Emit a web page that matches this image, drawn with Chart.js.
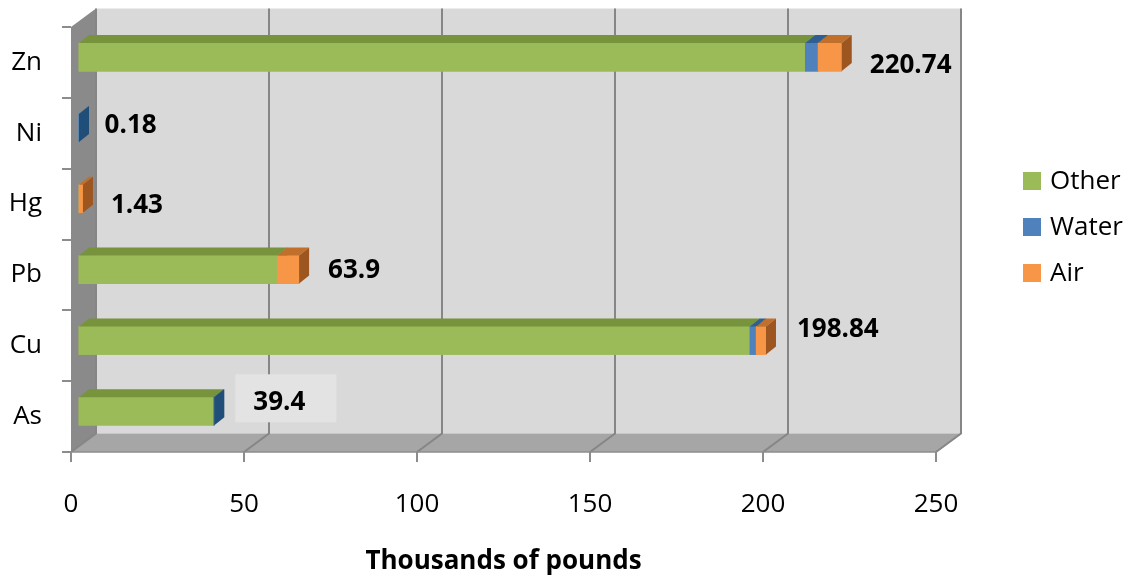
<!DOCTYPE html>
<html>
<head>
<meta charset="utf-8">
<script src="https://cdn.jsdelivr.net/npm/chart.js@4.4.1/dist/chart.umd.min.js"></script>
<style>
  html, body { margin: 0; padding: 0; background: #ffffff; }
  #wrap { width: 1133px; height: 578px; position: relative; }
</style>
</head>
<body>
<div id="wrap"><canvas id="chart" width="1133" height="578"></canvas></div>
<script>
// Releases by metal, thousands of pounds
const categories = ['Zn', 'Ni', 'Hg', 'Pb', 'Cu', 'As'];
const seriesNames = ['Other', 'Water', 'Air'];
const otherValues = [210.2, 0, 0, 57.6, 194.2, 39.2];
const waterValues = [3.7, 0.18, 0, 0, 1.8, 0.2];
const airValues = [6.84, 0, 1.43, 6.3, 2.84, 0];
const xTickValues = [0, 50, 100, 150, 200, 250];
const axisTitle = 'Thousands of pounds';

// Styling
const FONT = '"Open Sans", "Liberation Sans", sans-serif';
const frontColors = ['#9BBB59', '#4F81BD', '#F79646'];
const topColors = ['#77933C', '#2F5F90', '#C0702A'];
const sideColors = ['#62792F', '#1F4E79', '#9E5620'];
const GEO = {
  wallDx: 25, wallDy: -18.5,     // depth of the box (back wall offset)
  barShiftX: 7, barShiftY: -5.3, // bars sit a little into the box
  faceDx: 10, faceDy: -8         // bar thickness in depth
};
// label offsets from the end of each bar: [dx, dy]
const labelNudge = [[28, 8], [26, -2], [28, 7], [29, 1], [31, -11], [39, -9]];
const labelBox = [null, null, null, null, null, { color: '#E3E3E3', left: -18, right: 31, top: -28, bottom: 20 }];

const totals = categories.map((_, i) => otherValues[i] + waterValues[i] + airValues[i]);
const totalText = totals.map(t => String(Math.round(t * 100) / 100));

const depthBox = {
  id: 'depthBox',
  beforeDraw(chart) {
    const { ctx, chartArea: a, scales: { x } } = chart;
    const dx = GEO.wallDx, dy = GEO.wallDy;
    ctx.save();
    // back wall
    ctx.fillStyle = '#D9D9D9';
    ctx.fillRect(a.left + dx, a.top + dy, a.right - a.left, a.bottom - a.top);
    // left wall
    ctx.fillStyle = '#8A8A8A';
    ctx.beginPath();
    ctx.moveTo(a.left, a.top);
    ctx.lineTo(a.left + dx, a.top + dy);
    ctx.lineTo(a.left + dx, a.bottom + dy);
    ctx.lineTo(a.left, a.bottom);
    ctx.closePath();
    ctx.fill();
    // floor
    ctx.fillStyle = '#A6A6A6';
    ctx.beginPath();
    ctx.moveTo(a.left, a.bottom);
    ctx.lineTo(a.right, a.bottom);
    ctx.lineTo(a.right + dx, a.bottom + dy);
    ctx.lineTo(a.left + dx, a.bottom + dy);
    ctx.closePath();
    ctx.fill();
    // gridlines on back wall and floor
    ctx.strokeStyle = '#868686';
    ctx.lineWidth = 2;
    xTickValues.forEach(v => {
      const px = x.getPixelForValue(v);
      ctx.beginPath();
      ctx.moveTo(px + dx, a.top + dy);
      ctx.lineTo(px + dx, a.bottom + dy);
      ctx.lineTo(px, a.bottom);
      ctx.stroke();
    });
    // front edge of floor
    ctx.strokeStyle = '#8C8C8C';
    ctx.lineWidth = 1.5;
    ctx.beginPath();
    ctx.moveTo(a.left, a.bottom);
    ctx.lineTo(a.right, a.bottom);
    ctx.stroke();
    ctx.restore();
  },
  beforeDatasetsDraw(chart) {
    chart.ctx.save();
    chart.ctx.translate(GEO.barShiftX, GEO.barShiftY);
  },
  afterDatasetsDraw(chart) {
    const ctx = chart.ctx;
    const metas = chart.data.datasets.map((_, d) => chart.getDatasetMeta(d));
    categories.forEach((_, i) => {
      metas.forEach((meta, d) => {
        const val = chart.data.datasets[d].data[i];
        if (!val) return;
        const el = meta.data[i];
        const p = el.getProps(['x', 'y', 'base', 'height'], true);
        const l = Math.min(p.x, p.base), r = Math.max(p.x, p.base);
        const t = p.y - p.height / 2, b = p.y + p.height / 2;
        const fx = GEO.faceDx, fy = GEO.faceDy;
        el.draw(ctx);
        ctx.fillStyle = topColors[d];
        ctx.beginPath();
        ctx.moveTo(l, t); ctx.lineTo(r, t); ctx.lineTo(r + fx, t + fy); ctx.lineTo(l + fx, t + fy);
        ctx.closePath(); ctx.fill();
        ctx.fillStyle = sideColors[d];
        ctx.beginPath();
        ctx.moveTo(r, t); ctx.lineTo(r + fx, t + fy); ctx.lineTo(r + fx, b + fy); ctx.lineTo(r, b);
        ctx.closePath(); ctx.fill();
      });
    });
    ctx.restore();

    // totals at the end of each bar
    const { x, y } = chart.scales;
    ctx.save();
    ctx.font = 'bold 26px ' + FONT;
    ctx.textAlign = 'left';
    ctx.textBaseline = 'middle';
    totals.forEach((t, i) => {
      const tx = x.getPixelForValue(t) + GEO.barShiftX + labelNudge[i][0];
      const ty = y.getPixelForValue(i) + GEO.barShiftY + labelNudge[i][1];
      const box = labelBox[i];
      if (box) {
        const w = ctx.measureText(totalText[i]).width;
        ctx.fillStyle = box.color;
        ctx.fillRect(tx + box.left, ty + box.top, w - box.left + box.right, box.bottom - box.top);
      }
      ctx.fillStyle = '#000000';
      ctx.fillText(totalText[i], tx, ty);
    });
    ctx.restore();
  },
  afterDraw(chart) {
    // legend on the right
    const ctx = chart.ctx;
    ctx.save();
    ctx.font = '26px ' + FONT;
    ctx.textAlign = 'left';
    ctx.textBaseline = 'middle';
    chart.data.datasets.forEach((ds, d) => {
      const cy = 181 + d * 46;
      ctx.fillStyle = ds.backgroundColor;
      ctx.fillRect(1023, cy - 9, 18, 18);
      ctx.fillStyle = '#000000';
      ctx.fillText(ds.label, 1050, cy + 1);
    });
    ctx.restore();
  }
};

const seriesValues = [otherValues, waterValues, airValues];

new Chart(document.getElementById('chart'), {
  type: 'bar',
  data: {
    labels: categories,
    datasets: seriesNames.map((name, d) => ({
      label: name,
      data: seriesValues[d],
      backgroundColor: frontColors[d],
      borderWidth: 0,
      barThickness: 28
    }))
  },
  options: {
    indexAxis: 'y',
    responsive: false,
    animation: false,
    devicePixelRatio: 1,
    layout: { padding: { top: 27, right: 197, bottom: 0, left: 0 } },
    plugins: { legend: { display: false }, tooltip: { enabled: false } },
    scales: {
      x: {
        type: 'linear',
        stacked: true,
        min: 0,
        max: 250,
        afterBuildTicks(scale) { scale.ticks = xTickValues.map(v => ({ value: v })); },
        afterFit(scale) { scale.height = 126; },
        grid: { drawOnChartArea: false, drawTicks: true, tickLength: 10, color: '#8C8C8C', lineWidth: 2 },
        border: { display: false },
        ticks: { autoSkip: false, maxRotation: 0, padding: 27, color: '#000000', font: { family: FONT, size: 26 } },
        title: { display: true, text: axisTitle, color: '#000000', padding: { top: 0, bottom: 1 }, font: { family: FONT, size: 26, weight: 'bold' } }
      },
      y: {
        type: 'category',
        stacked: true,
        afterFit(scale) { scale.width = 71; scale.paddingTop = 0; scale.paddingBottom = 0; },
        grid: { offset: true, drawOnChartArea: false, drawTicks: true, tickLength: 9, color: '#8C8C8C', lineWidth: 2 },
        border: { display: false },
        ticks: { padding: 20, color: '#000000', font: { family: FONT, size: 26 } }
      }
    }
  },
  plugins: [depthBox]
});
</script>
</body>
</html>
